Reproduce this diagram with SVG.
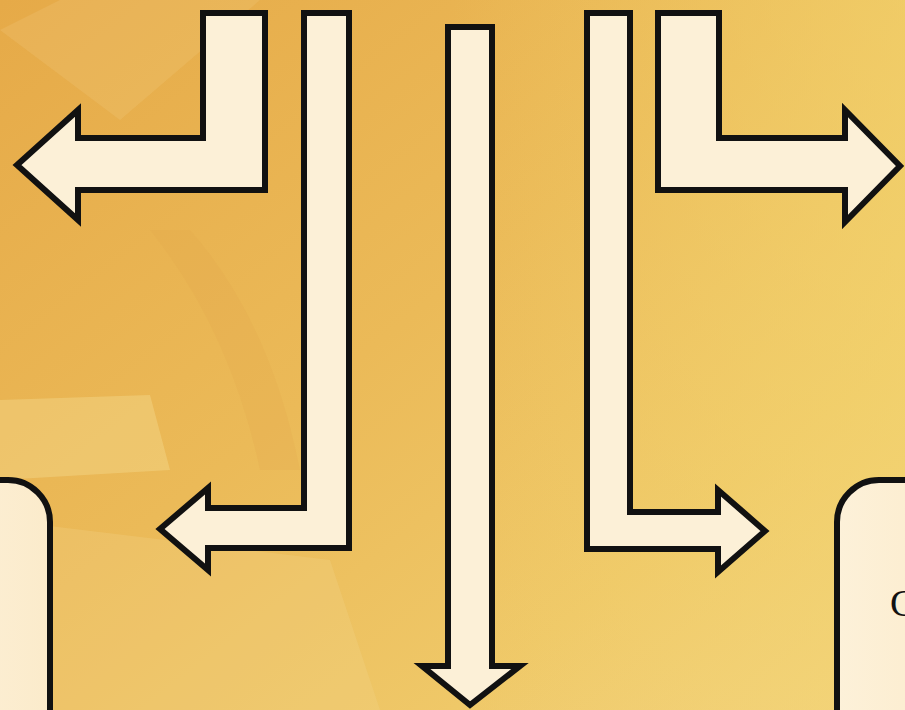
<svg xmlns="http://www.w3.org/2000/svg" width="905" height="710" viewBox="0 0 905 710">
  <defs>
    <linearGradient id="bg" x1="0" y1="0" x2="1" y2="1">
      <stop offset="0" stop-color="#E6AA48"/>
      <stop offset="0.45" stop-color="#EBBA58"/>
      <stop offset="0.75" stop-color="#EFC868"/>
      <stop offset="1" stop-color="#F2D284"/>
    </linearGradient>
    <linearGradient id="glowR" x1="0" y1="0" x2="1" y2="0">
      <stop offset="0" stop-color="#F3D56E" stop-opacity="0"/>
      <stop offset="1" stop-color="#F3D56E" stop-opacity="0.6"/>
    </linearGradient>
    <linearGradient id="boxfill" x1="0" y1="0" x2="1" y2="0">
      <stop offset="0" stop-color="#FDF1D9"/>
      <stop offset="1" stop-color="#FBEBCB"/>
    </linearGradient>
    <style>
      .arrow { fill: #FCF0D7; stroke: #111; stroke-width: 6; stroke-linejoin: miter; }
      .box { fill: url(#boxfill); stroke: #111; stroke-width: 6; }
      .lbl { font-family: "Liberation Serif", "Times New Roman", serif; font-size: 38px; fill: #111; }
    </style>
  </defs>

  <!-- background -->
  <rect x="0" y="0" width="905" height="710" fill="url(#bg)"/>
  <rect x="450" y="0" width="455" height="710" fill="url(#glowR)"/>
  <path d="M0,30 L60,0 L260,0 L120,120 Z" fill="#F5D48C" opacity="0.2"/>
  <path d="M0,400 L150,395 L170,470 L0,480 Z" fill="#F6DC90" opacity="0.4"/>
  <path d="M150,230 Q230,330 260,470 L300,470 Q270,320 190,230 Z" fill="#E2A64A" opacity="0.2"/>
  <path d="M0,520 L0,710 L380,710 L330,560 Z" fill="#F4D690" opacity="0.25"/>

  <!-- connectors (arrows) -->
  <g id="connectors">
    <path id="arrow-top-left" class="arrow" d="M203,13 L265,13 L265,190 L78,190 L78,220 L17,165 L78,110 L78,138 L203,138 Z"/>
    <path id="arrow-left" class="arrow" d="M304,13 L349,13 L349,548 L208,548 L208,570 L160,529 L208,488 L208,508 L304,508 Z"/>
    <path id="arrow-center" class="arrow" d="M448,27 L492,27 L492,666 L520,666 L470,705 L422,666 L448,666 Z"/>
    <path id="arrow-right" class="arrow" d="M587,13 L630,13 L630,512 L718,512 L718,490 L765,531 L718,572 L718,549 L587,549 Z"/>
    <path id="arrow-top-right" class="arrow" d="M658,13 L719,13 L719,138 L845,138 L845,110 L900,166 L845,222 L845,190 L658,190 Z"/>
  </g>

  <!-- nodes -->
  <g id="node-left">
    <rect class="box" x="-80" y="480" width="130" height="300" rx="42" ry="42"/>
  </g>
  <g id="node-right">
    <rect class="box" x="837" y="480" width="130" height="300" rx="42" ry="42"/>
    <text class="lbl" x="890" y="616">C</text>
  </g>
</svg>
